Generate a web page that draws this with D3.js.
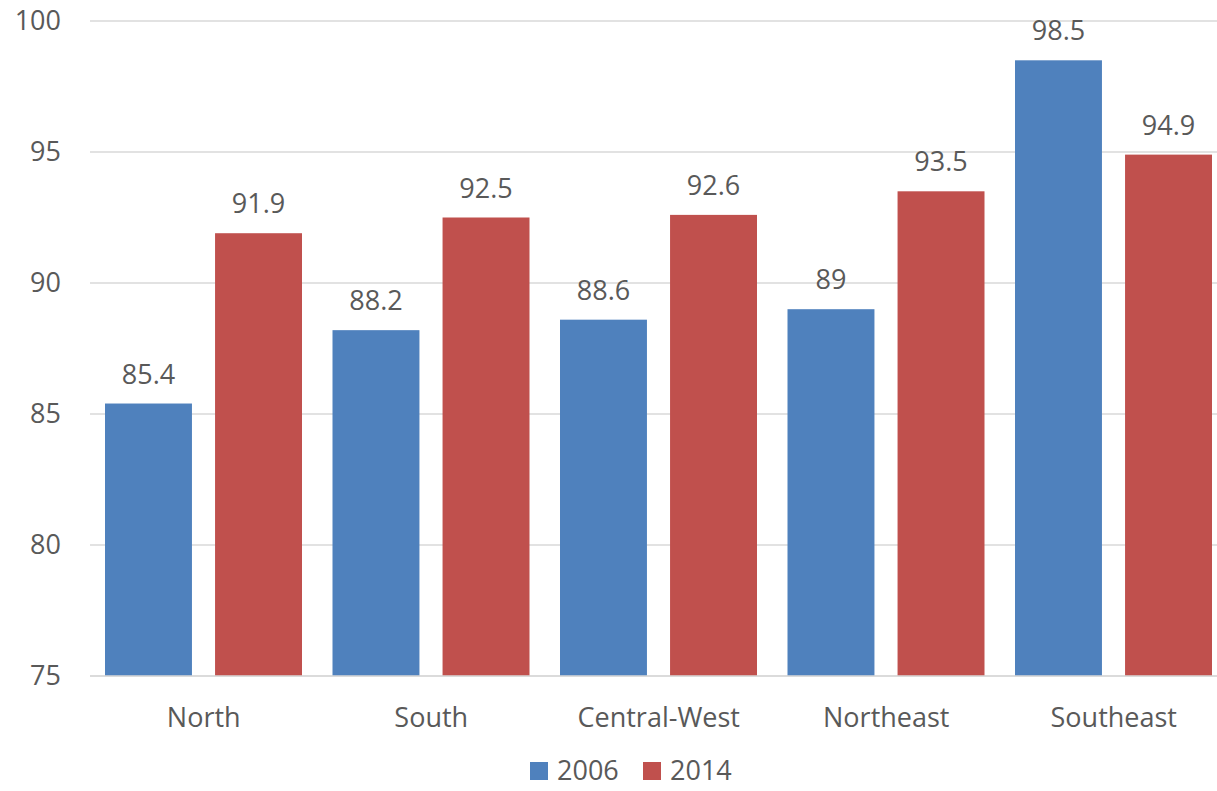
<!DOCTYPE html>
<html><head><meta charset="utf-8">
<script src="https://cdn.jsdelivr.net/npm/d3@7"></script>
<style>body{margin:0;background:#fff}svg text{font-family:"Open Sans",sans-serif;fill:#595959}</style>
</head><body>
<svg id="c" width="1217" height="791"></svg>
<script>
const categories = ["North","South","Central-West","Northeast","Southeast"];
const seriesNames = ["2006","2014"];
const values2006 = [85.4,88.2,88.6,89,98.5];
const values2014 = [91.9,92.5,92.6,93.5,94.9];
const yTicks = [75,80,85,90,95,100];
const colors = ["#4F81BD","#C0504D"];

(function(){
const svg = d3.select("#c");
const mLeft = 90, mRight = 1227.5, mTop = 21, mBottom = 676;
const y = d3.scaleLinear().domain([75,100]).range([mBottom, mTop]);
const x0 = d3.scaleBand().domain(categories).range([mLeft, mRight]).paddingInner(0).paddingOuter(0);
const x1 = d3.scaleBand().domain(seriesNames).range([15, x0.bandwidth()-15.5]).paddingInner(0.21).paddingOuter(0);

// gridlines
svg.append("g").selectAll("line").data(yTicks).join("line")
  .attr("x1", mLeft).attr("x2", 1217).attr("y1", d=>y(d)).attr("y2", d=>y(d))
  .attr("stroke", "#D9D9D9").attr("stroke-width", 1.5);

// y axis labels
const ya = svg.append("g").attr("transform", `translate(${mLeft},0)`)
  .call(d3.axisLeft(y).tickValues(yTicks).tickSize(0).tickPadding(29));
ya.select(".domain").remove();
ya.selectAll("text").attr("font-size", 27).style("font-family", '"Open Sans",sans-serif').attr("fill", "#595959");

const data = categories.map((c,i)=>({c, vals:[{s:"2006",v:values2006[i]},{s:"2014",v:values2014[i]}]}));
const g = svg.append("g").selectAll("g").data(data).join("g")
  .attr("transform", d=>`translate(${x0(d.c)},0)`);
g.selectAll("rect").data(d=>d.vals).join("rect")
  .attr("x", d=>x1(d.s)).attr("width", x1.bandwidth())
  .attr("y", d=>y(d.v)).attr("height", d=>mBottom - y(d.v))
  .attr("fill", (d,i)=>colors[i]);
g.selectAll("text").data(d=>d.vals).join("text")
  .attr("x", d=>x1(d.s)+x1.bandwidth()/2).attr("y", d=>y(d.v)-20)
  .attr("text-anchor","middle").attr("font-size", 27).text(d=>d.v);

// baseline
svg.append("line").attr("x1", mLeft).attr("x2", 1217).attr("y1", mBottom).attr("y2", mBottom)
  .attr("stroke", "#D9D9D9").attr("stroke-width", 1.5);

// x axis labels
const xa = svg.append("g").attr("transform", `translate(0,${mBottom})`)
  .call(d3.axisBottom(x0).tickSize(0).tickPadding(0));
xa.select(".domain").remove();
xa.selectAll("text").attr("font-size", 27).attr("dy", null).attr("y", 51)
  .style("font-family", '"Open Sans",sans-serif').attr("fill", "#595959");

// legend
const legendX = [530, 643];
const lg = svg.append("g").selectAll("g").data(seriesNames).join("g")
  .attr("transform", (d,i)=>`translate(${legendX[i]},762)`);
lg.append("rect").attr("width", 18).attr("height", 18).attr("fill", (d,i)=>colors[i]);
lg.append("text").attr("x", 27).attr("y", 18).attr("font-size", 27).text(d=>d);
})();
</script>
</body></html>
